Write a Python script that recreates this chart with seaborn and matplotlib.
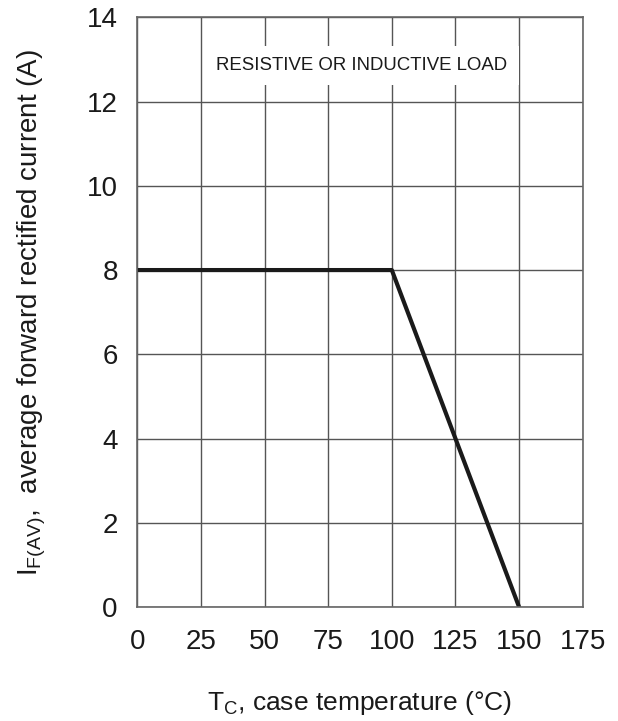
import matplotlib
matplotlib.use("Agg")
import matplotlib.pyplot as plt
import seaborn as sns
import pandas as pd

temperature = [0, 100, 150]
current = [8, 8, 0]
x_ticks = [0, 25, 50, 75, 100, 125, 150, 175]
y_ticks = [0, 2, 4, 6, 8, 10, 12, 14]

sns.set_theme(style="white")
plt.rcParams['font.family'] = ['Liberation Sans', 'DejaVu Sans']
plt.rcParams['mathtext.fontset'] = 'custom'
plt.rcParams['mathtext.rm'] = 'Liberation Sans'
plt.rcParams['mathtext.it'] = 'Liberation Sans'

df = pd.DataFrame({"T": temperature, "I": current})

fig = plt.figure(figsize=(6.18, 7.21), dpi=100)
ax = fig.add_axes([0.222, 0.158, 0.721, 0.818])
ax.set_xlim(0, 175)
ax.set_ylim(0, 14)
ax.set_xticks(x_ticks)
ax.set_yticks(y_ticks)
ax.grid(True, color="#555555", linewidth=1.0)
ax.set_axisbelow(True)
for s in ax.spines.values():
    s.set_color("#666666")
    s.set_linewidth(1.2)
sns.lineplot(data=df, x="T", y="I", ax=ax, color="#1a1a1a", linewidth=3, sort=False)
ax.tick_params(axis="y", length=0, labelsize=20, colors="#1a1a1a", pad=14)
ax.tick_params(axis="x", length=0, labelsize=20, colors="#1a1a1a", pad=16)
ax.set_xlabel(r"T$_{\mathregular{C}}$, case temperature (°C)", fontsize=19, color="#1a1a1a", labelpad=24)
ax.set_ylabel(r"I$_{\mathregular{F(AV)}}$,  average forward rectified current (A)", fontsize=20, color="#1a1a1a", labelpad=28)
ax.text(88.3, 12.86, "RESISTIVE OR INDUCTIVE LOAD", fontsize=13.4, ha="center", va="center", color="#1a1a1a",
        bbox=dict(facecolor="white", edgecolor="none", pad=8))
fig.savefig("out.png", dpi=100)
